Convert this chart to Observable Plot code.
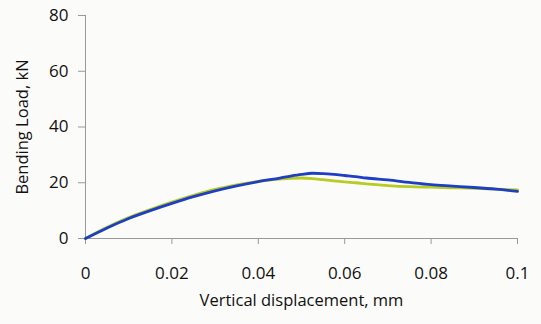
<!DOCTYPE html>
<html><head><meta charset="utf-8">
<script src="https://cdn.jsdelivr.net/npm/d3@7"></script>
<script src="https://cdn.jsdelivr.net/npm/@observablehq/plot@0.6"></script>
<style>
html,body{margin:0;padding:0;background:#fbfbf9;}
svg{font-family:"Open Sans",sans-serif;}
</style>
</head><body>
<div id="chart"></div>
<script>
const displacement = [0,0.005,0.01,0.015,0.02,0.025,0.03,0.035,0.04,0.045,0.0475,0.05,0.0525,0.055,0.0575,0.06,0.0625,0.065,0.07,0.075,0.08,0.085,0.09,0.095,0.1];
const loadBlue =   [0,3.8,7.2,10.0,12.6,15.0,17.1,18.9,20.4,21.7,22.4,23.0,23.4,23.3,23.0,22.6,22.2,21.7,21.0,20.1,19.3,18.8,18.3,17.7,16.9];
const loadYellow = [0,4.0,7.5,10.4,13.1,15.5,17.6,19.2,20.5,21.3,21.6,21.7,21.5,21.1,20.7,20.3,20.0,19.6,19.0,18.6,18.4,18.2,18.0,17.7,17.4];
const xTicks = [0,0.02,0.04,0.06,0.08,0.1];
const yTicks = [0,20,40,60,80];
const xLabel = "Vertical displacement, mm";
const yLabel = "Bending Load, kN";

const blue = displacement.map((x,i)=>({x, y: loadBlue[i]}));
const yellow = displacement.map((x,i)=>({x, y: loadYellow[i]}));

const plot = Plot.plot({
  width: 541, height: 324,
  marginLeft: 85, marginRight: 24, marginTop: 15, marginBottom: 86,
  style: {background: "transparent", fontSize: "17px", fontFamily: "'Open Sans', sans-serif", color: "#111"},
  x: {domain: [0, 0.1]},
  y: {domain: [0, 80]},
  marks: [
    Plot.axisY({ticks: yTicks, tickSize: 7, tickPadding: 10, stroke: "#999", fill: "#111", label: null, fontSize: 17}),
    Plot.axisX({ticks: xTicks, tickSize: 6, tickPadding: 22, stroke: "#999", fill: "#111", tickFormat: d => String(+d.toFixed(2)), label: null, fontSize: 17}),
    Plot.text([yLabel], {frameAnchor: "left", textAnchor: "middle", rotate: -90, dx: -63, fontSize: 16.5, fill: "#111"}),
    Plot.text([xLabel], {frameAnchor: "bottom", textAnchor: "middle", dy: 67, fontSize: 16.5, fill: "#111"}),
    Plot.ruleX([0], {stroke: "#999"}),
    Plot.ruleY([0], {stroke: "#999"}),
    Plot.line(yellow, {x: "x", y: "y", stroke: "#b6cc22", strokeWidth: 2.8, curve: "monotone-x"}),
    Plot.line(blue, {x: "x", y: "y", stroke: "#1e3ec4", strokeWidth: 2.8, curve: "monotone-x"})
  ]
});
document.getElementById("chart").appendChild(plot);
</script>
</body></html>
